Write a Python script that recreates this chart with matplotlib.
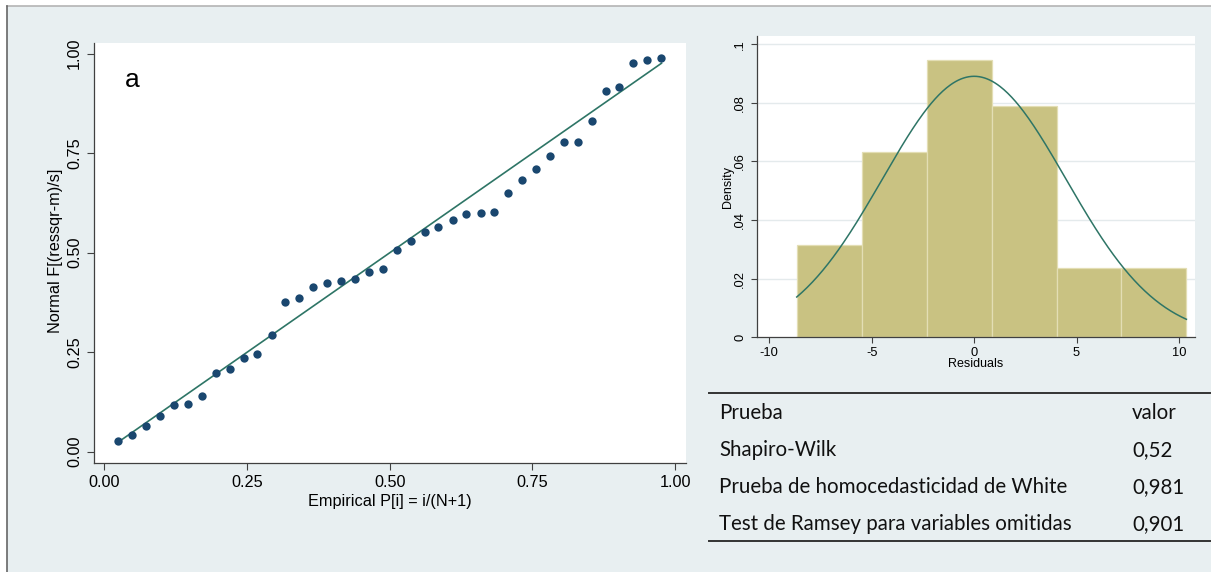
import numpy as np
import matplotlib
matplotlib.use('Agg')
from matplotlib import pyplot as plt
from matplotlib.patches import Rectangle
from matplotlib.lines import Line2D

# ---- data ----
# panel a: normal probability plot of the residuals (N = 40)
qq_x = [0.024, 0.049, 0.073, 0.098, 0.122, 0.146, 0.171, 0.195, 0.220, 0.244,
        0.268, 0.293, 0.317, 0.341, 0.366, 0.390, 0.415, 0.439, 0.463, 0.488,
        0.512, 0.537, 0.561, 0.585, 0.610, 0.634, 0.659, 0.683, 0.707, 0.732,
        0.756, 0.780, 0.805, 0.829, 0.854, 0.878, 0.902, 0.927, 0.951, 0.976]
qq_y = [0.027, 0.041, 0.064, 0.089, 0.118, 0.119, 0.139, 0.198, 0.208, 0.235,
        0.246, 0.294, 0.377, 0.387, 0.413, 0.424, 0.428, 0.434, 0.451, 0.460,
        0.507, 0.530, 0.552, 0.565, 0.583, 0.597, 0.600, 0.603, 0.649, 0.682,
        0.711, 0.744, 0.779, 0.779, 0.832, 0.906, 0.916, 0.976, 0.983, 0.989]
qq_ticks = [0.0, 0.25, 0.5, 0.75, 1.0]
qq_ticklabels = ['0.00', '0.25', '0.50', '0.75', '1.00']

# histogram of residuals with normal density
bin_edges = [-8.66, -5.49, -2.32, 0.85, 4.02, 7.19, 10.36]
density = [0.0316, 0.0631, 0.0947, 0.0789, 0.0237, 0.0237]
resid_mean = 0.0
resid_sd = 4.48
hist_xticks = [-10, -5, 0, 5, 10]
hist_yticks = [0, 0.02, 0.04, 0.06, 0.08, 0.1]
hist_yticklabels = ['0', '.02', '.04', '.06', '.08', '.1']

# table of tests
test_names = ['Shapiro-Wilk', 'Prueba de homocedasticidad de White',
              'Test de Ramsey para variables omitidas']
test_values = ['0,52', '0,981', '0,901']

W, H = 1211, 572
BG = '#e8eff1'
NAVY = '#1a476f'
TEAL = '#2e7566'
KHAKI = '#c9c282'
AXC = '#404040'

plt.rcParams['font.family'] = ['Liberation Sans', 'DejaVu Sans']
plt.rcParams['axes.unicode_minus'] = False

fig = plt.figure(figsize=(W / 100, H / 100), dpi=100)
fig.patch.set_facecolor(BG)


def px_rect(x0, y0, x1, y1):
    # pixel box (top-left origin) -> figure fractions
    return [x0 / W, 1 - y1 / H, (x1 - x0) / W, (y1 - y0) / H]


# slide frame: white strip on top and left, thin gray border
fig.patches.append(Rectangle((0, 1 - 6 / H), 1, 6 / H, transform=fig.transFigure,
                             facecolor='white', edgecolor='none', zorder=0))
fig.patches.append(Rectangle((0, 0), 7 / W, 1, transform=fig.transFigure,
                             facecolor='white', edgecolor='none', zorder=0))
fig.lines.append(Line2D([7 / W, 1], [1 - 6 / H, 1 - 6 / H], transform=fig.transFigure,
                        color='#b4b4b4', lw=1.2))
fig.lines.append(Line2D([7 / W, 7 / W], [0, 1 - 6 / H], transform=fig.transFigure,
                        color='#666666', lw=1.2))


def stata_axes(ax):
    for s in ['top', 'right']:
        ax.spines[s].set_visible(False)
    for s in ['left', 'bottom']:
        ax.spines[s].set_color(AXC)
        ax.spines[s].set_linewidth(0.9)
    ax.set_facecolor('white')
    ax.tick_params(colors=AXC, labelcolor='black', width=0.8)


# ---- panel a ----
ax1 = fig.add_axes(px_rect(93.75, 42.7, 686, 462.6))
stata_axes(ax1)
ax1.plot([qq_x[0], qq_x[-1]], [qq_x[0], qq_x[-1]], color=TEAL, lw=1.2, zorder=2)
ax1.plot(qq_x, qq_y, 'o', color=NAVY, ms=6.0, mec='none', zorder=3)
ax1.set_xlim(-0.0188, 1.019)
ax1.set_ylim(-0.0274, 1.0277)
ax1.set_xticks(qq_ticks)
ax1.set_xticklabels(qq_ticklabels)
ax1.set_yticks(qq_ticks)
ax1.set_yticklabels(qq_ticklabels)
ax1.tick_params(axis='both', length=5, labelsize=11.7)
ax1.tick_params(axis='y', labelrotation=90, pad=3.5)
ax1.tick_params(axis='x', pad=4)
for lab in ax1.get_yticklabels():
    lab.set_verticalalignment('center')
ax1.set_xlabel('Empirical P[i] = i/(N+1)', fontsize=11.7)
ax1.set_ylabel('Normal F[(ressqr-m)/s]', fontsize=11.7)
ax1.xaxis.set_label_coords(0.5002, -0.0929)
ax1.xaxis.label.set_va('center')
ax1.yaxis.set_label_coords(-0.0641, 0.504)
ax1.yaxis.label.set_va('center')
ax1.text(0.0646, 0.911, 'a', transform=ax1.transAxes, fontsize=19,
         ha='center', va='center')

# ---- histogram ----
ax2 = fig.add_axes(px_rect(756.7, 36, 1195, 337.3))
stata_axes(ax2)
for yt in hist_yticks[1:]:
    ax2.axhline(yt, color='#e4eaec', lw=1.0, zorder=0)
ax2.bar(bin_edges[:-1], density, width=np.diff(bin_edges), align='edge',
        color=KHAKI, edgecolor='#e3deb4', linewidth=0.9, zorder=1)
xs = np.linspace(bin_edges[0], bin_edges[-1], 300)
pdf = np.exp(-0.5 * ((xs - resid_mean) / resid_sd) ** 2) / (resid_sd * np.sqrt(2 * np.pi))
ax2.plot(xs, pdf, color=TEAL, lw=1.1, zorder=2)
ax2.set_xlim(-10.615, 10.78)
ax2.set_ylim(0, 0.1028)
ax2.set_xticks(hist_xticks)
ax2.set_yticks(hist_yticks)
ax2.set_yticklabels(hist_yticklabels)
ax2.tick_params(axis='both', length=4, labelsize=9.3)
ax2.tick_params(axis='y', labelrotation=90, pad=3.5)
ax2.tick_params(axis='x', pad=3)
for lab in ax2.get_yticklabels():
    lab.set_verticalalignment('center')
ax2.set_xlabel('Residuals', fontsize=9)
ax2.set_ylabel('Density', fontsize=9)
ax2.xaxis.set_label_coords(0.4997, -0.0886)
ax2.xaxis.label.set_va('center')
ax2.yaxis.set_label_coords(-0.0662, 0.4998)
ax2.yaxis.label.set_va('center')

# ---- table ----
tfont = ['Lato', 'DejaVu Sans']
fig.lines.append(Line2D([709 / W, 1210 / W], [1 - 392.7 / H] * 2, transform=fig.transFigure,
                        color='#333333', lw=1.4))
fig.lines.append(Line2D([709 / W, 1210 / W], [1 - 541 / H] * 2, transform=fig.transFigure,
                        color='#333333', lw=1.4))
rows = [('Prueba', 'valor')] + list(zip(test_names, test_values))
baselines = [419.3, 456.0, 493.0, 530.0]
for (name, val), yb in zip(rows, baselines):
    fig.text(719.3 / W, 1 - yb / H, name, fontsize=14.8, family=tfont,
             ha='left', va='baseline', color='#111111')
    fig.text(1132 / W, 1 - yb / H, val, fontsize=14.8, family=tfont,
             ha='left', va='baseline', color='#111111')

fig.savefig('out.png', dpi=100, facecolor=fig.get_facecolor())
